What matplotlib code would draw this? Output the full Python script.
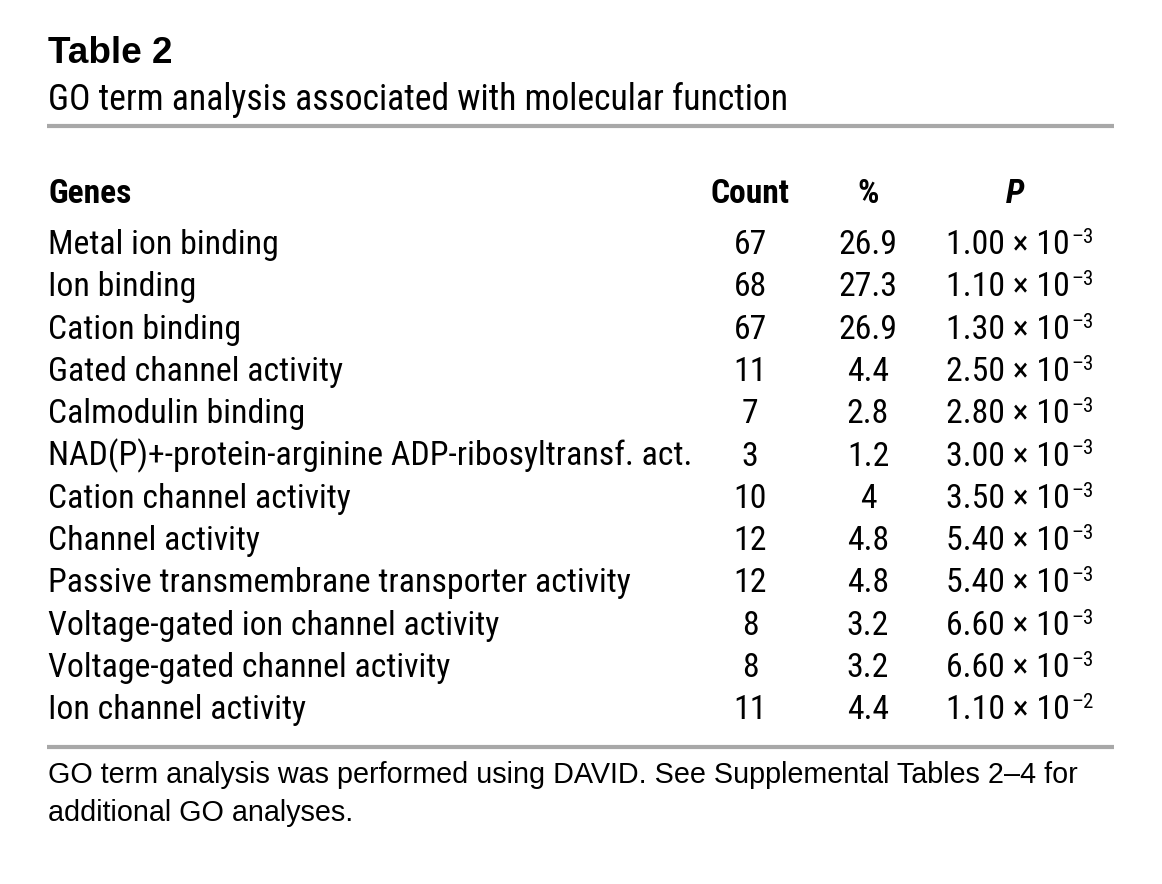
import matplotlib
matplotlib.use("Agg")
import matplotlib.pyplot as plt
from matplotlib import font_manager

names = {f.name for f in font_manager.fontManager.ttflist}
def pick(*cands):
    for c in cands:
        if c in names:
            return c
    return "DejaVu Sans"
NARROW = pick("Roboto Condensed", "Archivo Narrow", "PT Sans Narrow", "Liberation Sans")
REG = pick("Liberation Sans", "Arimo", "DejaVu Sans")

title = "Table 2"
subtitle = "GO term analysis associated with molecular function"
headers = ["Genes", "Count", "%", "P"]
genes = [
    "Metal ion binding",
    "Ion binding",
    "Cation binding",
    "Gated channel activity",
    "Calmodulin binding",
    "NAD(P)+-protein-arginine ADP-ribosyltransf. act.",
    "Cation channel activity",
    "Channel activity",
    "Passive transmembrane transporter activity",
    "Voltage-gated ion channel activity",
    "Voltage-gated channel activity",
    "Ion channel activity",
]
counts = [67, 68, 67, 11, 7, 3, 10, 12, 12, 8, 8, 11]
percents = ["26.9", "27.3", "26.9", "4.4", "2.8", "1.2", "4", "4.8", "4.8", "3.2", "3.2", "4.4"]
p_mantissa = ["1.00", "1.10", "1.30", "2.50", "2.80", "3.00", "3.50", "5.40", "5.40", "6.60", "6.60", "1.10"]
p_exponent = ["\u20133"] * 11 + ["\u20132"]
footnote = ["GO term analysis was performed using DAVID. See Supplemental Tables 2\u20134 for",
            "additional GO analyses."]

W, H = 1162, 884
fig = plt.figure(figsize=(W / 100, H / 100), dpi=100)
ax = fig.add_axes([0, 0, 1, 1])
ax.set_xlim(0, W)
ax.set_ylim(H, 0)
ax.axis("off")
renderer = fig.canvas.get_renderer()

def fit_size(s, family, target_px, weight="normal", style="normal", ref=20.0):
    t = fig.text(0, 0, s, family=family, fontsize=ref, weight=weight, style=style)
    w = t.get_window_extent(renderer).width
    t.remove()
    return ref * target_px / w

LEFT = 48
RULE_C = "#a8a8a8"

fs_title = fit_size(title, REG, 124, weight="bold")
fs_sub = fit_size(subtitle, NARROW, 739)
fs_data = fit_size(genes[5], NARROW, 641)
fs_head = fit_size(headers[0], NARROW, 83, weight="bold")
fs_foot = fit_size(footnote[0], REG, 1027)

ax.text(LEFT, 63, title, family=REG, weight="bold", fontsize=fs_title, va="baseline", ha="left")
ax.text(LEFT, 110, subtitle, family=NARROW, fontsize=fs_sub, va="baseline", ha="left")
ax.plot([47, 1114], [126, 126], color=RULE_C, lw=3, solid_capstyle="butt")

x_count, x_pct, x_p_center, x_p_right = 750, 868, 1015, 1070
hy = 203
ax.text(LEFT, hy, headers[0], family=NARROW, weight="bold", fontsize=fs_head, va="baseline")
ax.text(x_count, hy, headers[1], family=NARROW, weight="bold", fontsize=fs_head, va="baseline", ha="center")
ax.text(x_pct, hy, headers[2], family=NARROW, weight="bold", fontsize=fs_head, va="baseline", ha="center")
ax.text(x_p_center, hy, headers[3], family=NARROW, weight="bold", style="italic", fontsize=fs_head,
        va="baseline", ha="center")

y0, dy = 254, 42.3
for i, g in enumerate(genes):
    y = y0 + i * dy
    ax.text(LEFT, y, g, family=NARROW, fontsize=fs_data, va="baseline")
    ax.text(x_count, y, str(counts[i]), family=NARROW, fontsize=fs_data, va="baseline", ha="center")
    ax.text(x_pct, y, percents[i], family=NARROW, fontsize=fs_data, va="baseline", ha="center")
    ax.text(x_p_right, y, f"{p_mantissa[i]} \u00d7 10", family=NARROW, fontsize=fs_data,
            va="baseline", ha="right")
    ax.text(x_p_right + 1, y - 11, p_exponent[i], family=NARROW, fontsize=fs_data * 0.62,
            va="baseline", ha="left")

ax.plot([47, 1114], [747, 747], color=RULE_C, lw=3, solid_capstyle="butt")
ax.text(LEFT, 783, footnote[0], family=REG, fontsize=fs_foot, va="baseline")
ax.text(LEFT, 821, footnote[1], family=REG, fontsize=fs_foot, va="baseline")

fig.savefig("out.png", dpi=100, facecolor="white")
